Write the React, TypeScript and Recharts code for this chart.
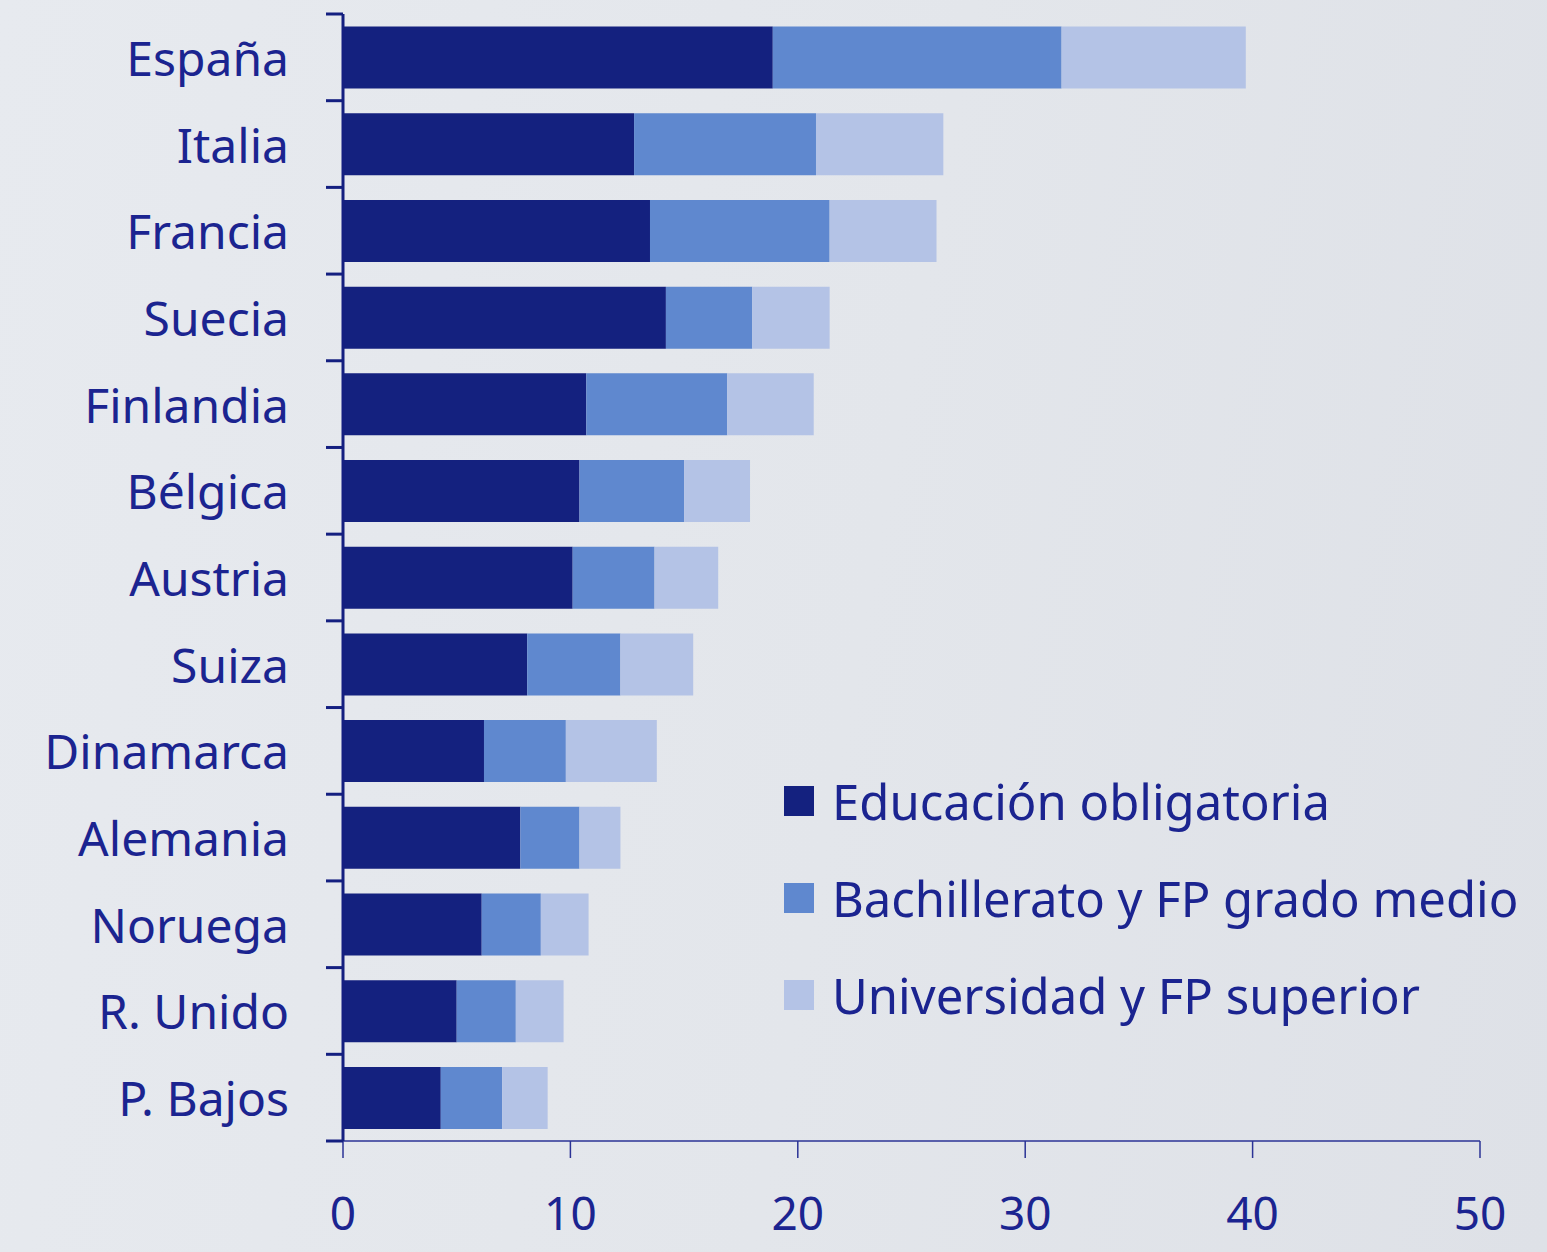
import { BarChart, Bar, XAxis, YAxis } from 'recharts'

const countries = ['España', 'Italia', 'Francia', 'Suecia', 'Finlandia', 'Bélgica', 'Austria', 'Suiza', 'Dinamarca', 'Alemania', 'Noruega', 'R. Unido', 'P. Bajos']
const obligatoria = [18.9, 12.8, 13.5, 14.2, 10.7, 10.4, 10.1, 8.1, 6.2, 7.8, 6.1, 5.0, 4.3]
const bachillerato = [12.7, 8.0, 7.9, 3.8, 6.2, 4.6, 3.6, 4.1, 3.6, 2.6, 2.6, 2.6, 2.7]
const universidad = [8.1, 5.6, 4.7, 3.4, 3.8, 2.9, 2.8, 3.2, 4.0, 1.8, 2.1, 2.1, 2.0]
const xTicks = [0, 10, 20, 30, 40, 50]

const seriesNames = ['Educación obligatoria', 'Bachillerato y FP grado medio', 'Universidad y FP superior']
const colors = ['#14217f', '#5f88cf', '#b4c3e6']

const data = countries.map((country, i) => ({
  country,
  obligatoria: obligatoria[i],
  bachillerato: bachillerato[i],
  universidad: universidad[i],
}))

const textColor = '#1b2490'
const axisColor = '#141f80'
const font = '"Noto Sans", sans-serif'

// category label plus tick marks on the band boundaries
// (x comes in as axis line minus tickSize + tickMargin = 8px)
const CountryTick = (props: any) => {
  const { x, y, payload, index } = props
  const half = payload?.offset ?? 43
  const ax = x + 8
  return (
    <g>
      {index === 0 && <line x1={ax - 17} x2={ax} y1={y - half} y2={y - half} stroke={axisColor} strokeWidth={3} />}
      <line x1={ax - 17} x2={ax} y1={y + half} y2={y + half} stroke={axisColor} strokeWidth={3} />
      <text x={ax - 54} y={y} textAnchor="end" dominantBaseline="central" fill={textColor} fontSize={48} fontFamily={font}>
        {payload.value}
      </text>
    </g>
  )
}

export default function App() {
  return (
    <div
      style={{
        position: 'absolute',
        left: 0,
        top: 0,
        width: 1547,
        height: 1252,
        background: 'linear-gradient(100deg, #e7eaef 0%, #e3e6eb 55%, #dee1e7 100%)',
      }}
    >
      <BarChart
        width={1547}
        height={1252}
        data={data}
        layout="vertical"
        margin={{ top: 14, right: 67, bottom: 0, left: 0 }}
        barCategoryGap="14.5%"
      >
        <XAxis
          type="number"
          domain={[0, 50]}
          ticks={xTicks}
          tickSize={17}
          height={111}
          stroke="#2b3396"
          strokeWidth={1.5}
          tick={{ fill: textColor, fontSize: 46, fontFamily: font, dy: 37 }}
        />
        <YAxis
          type="category"
          dataKey="country"
          width={343}
          stroke={axisColor}
          strokeWidth={3}
          tickLine={false}
          interval={0}
          tick={<CountryTick />}
        />
        <Bar dataKey="obligatoria" name={seriesNames[0]} stackId="a" fill={colors[0]} isAnimationActive={false} />
        <Bar dataKey="bachillerato" name={seriesNames[1]} stackId="a" fill={colors[1]} isAnimationActive={false} />
        <Bar dataKey="universidad" name={seriesNames[2]} stackId="a" fill={colors[2]} isAnimationActive={false} />
      </BarChart>
      <div style={{ position: 'absolute', left: 784, top: 752, fontFamily: font }}>
        {seriesNames.map((name, i) => (
          <div key={name} style={{ display: 'flex', alignItems: 'center', height: 97 }}>
            <div style={{ width: 30, height: 30, background: colors[i], marginRight: 18 }} />
            <span style={{ fontSize: 49, color: textColor, whiteSpace: 'nowrap' }}>{name}</span>
          </div>
        ))}
      </div>
    </div>
  )
}
